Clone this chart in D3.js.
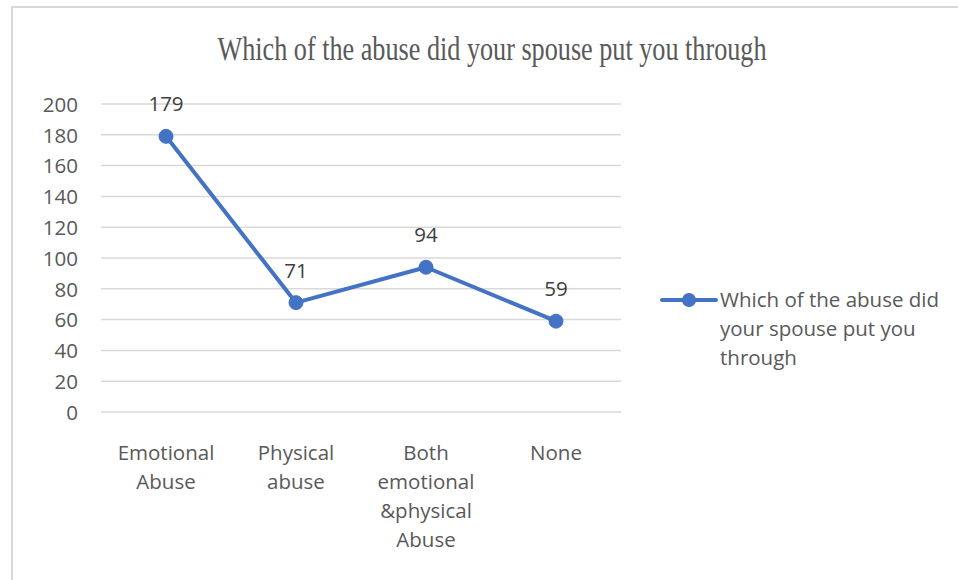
<!DOCTYPE html>
<html>
<head>
<meta charset="utf-8">
<script src="https://cdn.jsdelivr.net/npm/d3@7"></script>
<style>
  html, body { margin: 0; padding: 0; background: #fff; }
  svg { display: block; }
</style>
</head>
<body>
<svg id="chart" width="958" height="580"></svg>
<script>
// Survey responses: type of abuse experienced from a spouse
const categories = [
  ["Emotional", "Abuse"],
  ["Physical", "abuse"],
  ["Both", "emotional", "&physical", "Abuse"],
  ["None"]
];
const values = [179, 71, 94, 59];
const yTicks = [0, 20, 40, 60, 80, 100, 120, 140, 160, 180, 200];
const seriesName = ["Which of the abuse did", "your spouse put you", "through"];
const title = "Which of the abuse did your spouse put you through";

const svg = d3.select("#chart");
const fontSans = "'Open Sans', 'Noto Sans', sans-serif";
const fontSize = 20.5;
const lineColor = "#4472C4";
const textColor = "#595959";

// Chart frame
svg.append("rect")
  .attr("x", 12).attr("y", 7)
  .attr("width", 960).attr("height", 600)
  .attr("fill", "#fff")
  .attr("stroke", "#d9d9d9").attr("stroke-width", 2);

// Title (condensed serif)
svg.append("text")
  .attr("x", 492).attr("y", 60)
  .attr("text-anchor", "middle")
  .attr("font-family", "'Liberation Serif', serif")
  .attr("font-size", 34)
  .attr("fill", textColor)
  .attr("textLength", 549)
  .attr("lengthAdjust", "spacingAndGlyphs")
  .text(title);

const idx = d3.range(values.length);
const x = d3.scaleBand().domain(idx).range([101, 621]);
const y = d3.scaleLinear().domain([0, 200]).range([412, 104]);

// Gridlines
svg.append("g")
  .selectAll("line")
  .data(yTicks)
  .join("line")
  .attr("x1", 101).attr("x2", 621)
  .attr("y1", d => y(d)).attr("y2", d => y(d))
  .attr("stroke", "#d9d9d9").attr("stroke-width", 1.5);

// Y axis labels
const yAxis = d3.axisLeft(y).tickValues(yTicks).tickSize(0).tickPadding(0);
const yg = svg.append("g").attr("transform", "translate(78,0)").call(yAxis);
yg.select(".domain").remove();
yg.selectAll("text")
  .attr("font-family", fontSans)
  .attr("font-size", fontSize)
  .attr("fill", textColor)
  .attr("dy", "0.36em");

// Category labels (wrapped)
const xg = svg.append("g");
xg.selectAll("text")
  .data(idx)
  .join("text")
  .attr("x", i => x(i) + x.bandwidth() / 2)
  .attr("y", 460)
  .attr("text-anchor", "middle")
  .attr("font-family", fontSans)
  .attr("font-size", fontSize)
  .attr("fill", textColor)
  .each(function (i) {
    d3.select(this).selectAll("tspan")
      .data(categories[i])
      .join("tspan")
      .attr("x", x(i) + x.bandwidth() / 2)
      .attr("dy", (d, k) => k === 0 ? 0 : 29)
      .text(d => d);
  });

// Series line
const cx = i => x(i) + x.bandwidth() / 2;
const line = d3.line().x(i => cx(i)).y(i => y(values[i]));
svg.append("path")
  .datum(idx)
  .attr("d", line)
  .attr("fill", "none")
  .attr("stroke", lineColor)
  .attr("stroke-width", 4)
  .attr("stroke-linejoin", "round")
  .attr("stroke-linecap", "round");

// Markers
svg.append("g")
  .selectAll("circle")
  .data(idx)
  .join("circle")
  .attr("cx", cx)
  .attr("cy", i => y(values[i]))
  .attr("r", 7)
  .attr("fill", lineColor)
  .attr("stroke", lineColor);

// Data labels
svg.append("g")
  .selectAll("text")
  .data(idx)
  .join("text")
  .attr("x", cx)
  .attr("y", i => y(values[i]) - 25)
  .attr("text-anchor", "middle")
  .attr("font-family", fontSans)
  .attr("font-size", fontSize)
  .attr("fill", "#404040")
  .text(i => values[i]);

// Legend
const lg = svg.append("g");
lg.append("line")
  .attr("x1", 662).attr("x2", 716)
  .attr("y1", 300).attr("y2", 300)
  .attr("stroke", lineColor).attr("stroke-width", 4)
  .attr("stroke-linecap", "round");
lg.append("circle")
  .attr("cx", 689).attr("cy", 300).attr("r", 7)
  .attr("fill", lineColor);
lg.append("text")
  .attr("x", 720).attr("y", 307)
  .attr("font-family", fontSans)
  .attr("font-size", fontSize)
  .attr("fill", textColor)
  .selectAll("tspan")
  .data(seriesName)
  .join("tspan")
  .attr("x", 720)
  .attr("dy", (d, k) => k === 0 ? 0 : 29)
  .text(d => d);
</script>
</body>
</html>
